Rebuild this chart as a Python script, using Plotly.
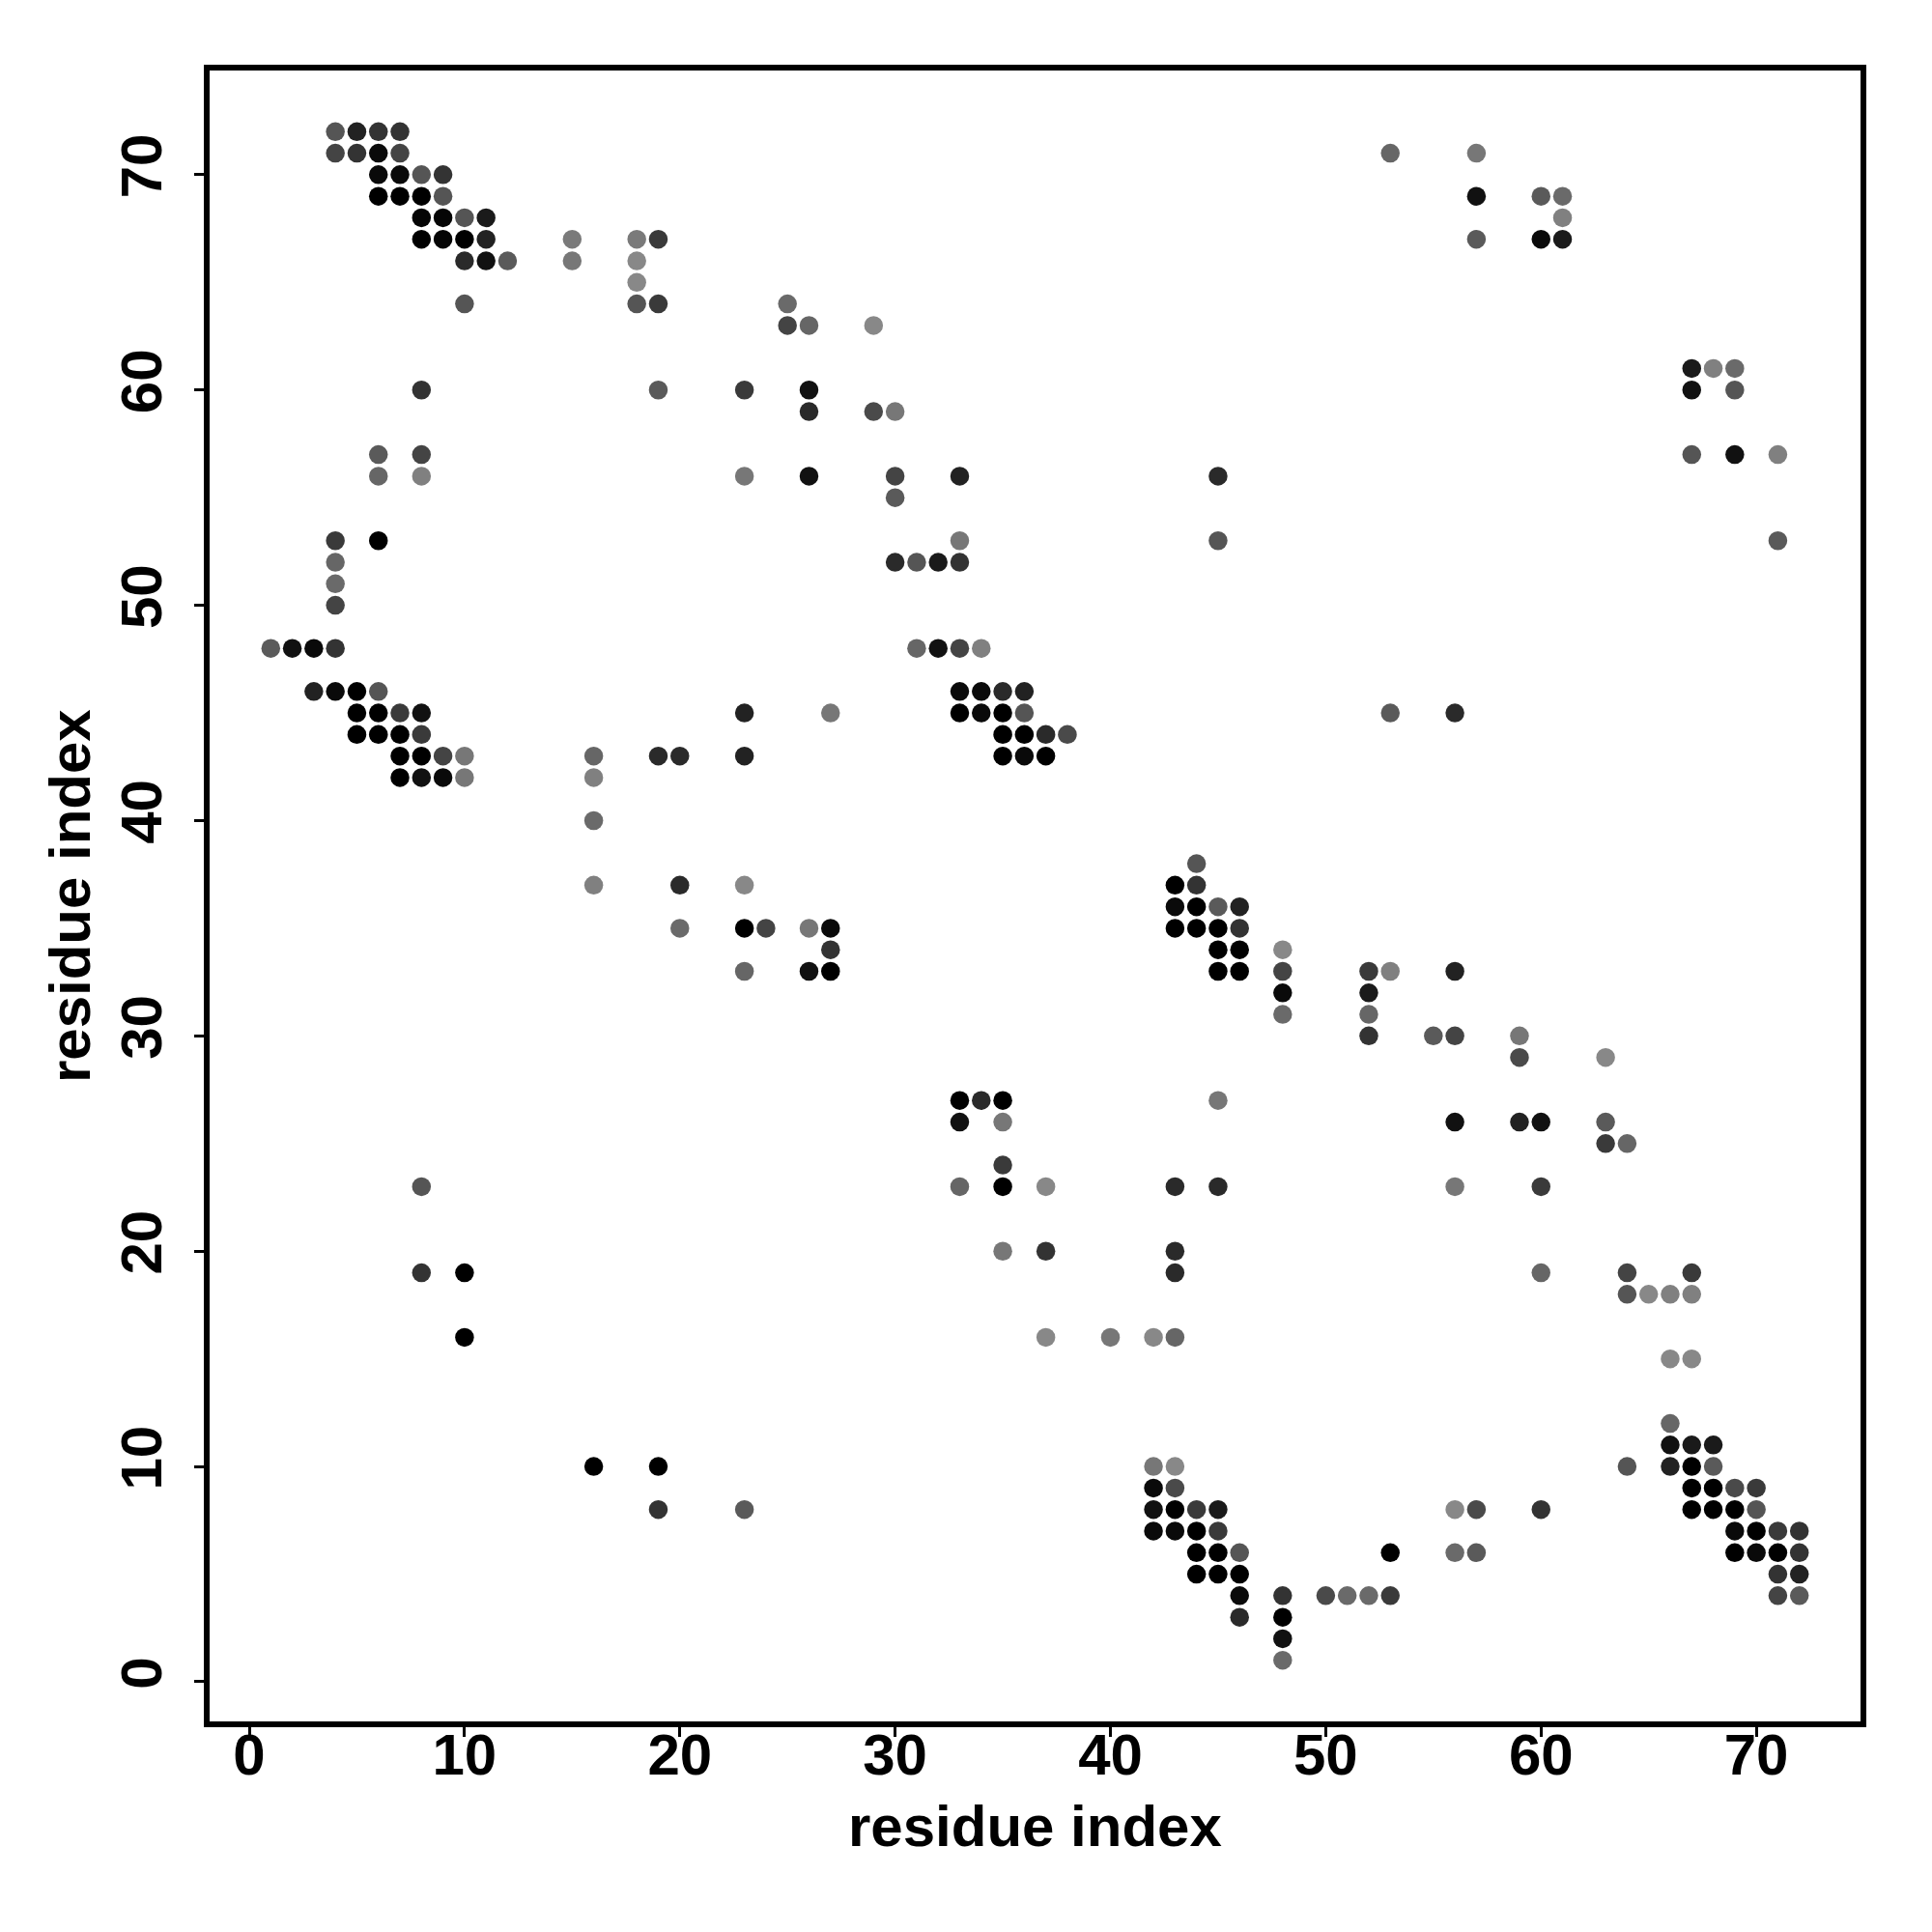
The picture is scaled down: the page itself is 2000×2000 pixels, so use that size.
import plotly.graph_objects as go

# Contact map: residue i (x), residue j (y), grey shade level (0 = black, 255 = white)
res_i = [
    4, 5, 6, 7,
    4, 5, 6, 7, 53, 57,
    6, 7, 8, 9,
    6, 7, 8, 9, 57, 60, 61,
    8, 9, 10, 11, 61,
    8, 9, 10, 11, 15, 18, 19, 57, 60, 61,
    10, 11, 12, 15, 18,
    18,
    10, 18, 19, 25,
    25, 26, 29,
    67, 68, 69,
    8, 19, 23, 26, 67, 69,
    26, 29, 30,
    6, 8, 67, 69, 71,
    6, 8, 23, 26, 30, 33, 45,
    30,
    4, 6, 33, 45, 71,
    4, 30, 31, 32, 33,
    4,
    4,
    1, 2, 3, 4, 31, 32, 33, 34,
    3, 4, 5, 6, 33, 34, 35, 36,
    5, 6, 7, 8, 23, 27, 33, 34, 35, 36, 53, 56,
    5, 6, 7, 8, 35, 36, 37, 38,
    7, 8, 9, 10, 16, 19, 20, 23, 35, 36, 37,
    7, 8, 9, 10, 16,
    16,
    44,
    16, 20, 23, 43, 44,
    43, 44, 45, 46,
    20, 23, 24, 26, 27, 43, 44, 45, 46,
    27, 45, 46, 48,
    23, 26, 27, 45, 46, 48, 52, 53, 56,
    48, 52,
    48, 52,
    52, 55, 56, 59,
    59, 63,
    33, 34, 35, 45,
    33, 35, 56, 59, 60, 63,
    63, 64,
    35,
    8, 33, 35, 37, 43, 45, 56, 60,
    35, 37, 43,
    8, 10, 43, 60, 64, 67,
    64, 65, 66, 67,
    10, 37, 40, 42, 43,
    66, 67,
    66,
    66, 67, 68,
    16, 19, 42, 43, 64, 66, 67, 68,
    42, 43, 67, 68, 69, 70,
    19, 23, 42, 43, 44, 45, 56, 57, 60, 67, 68, 69, 70,
    42, 43, 44, 45, 69, 70, 71, 72,
    44, 45, 46, 53, 56, 57, 69, 70, 71, 72,
    44, 45, 46, 71, 72,
    46, 48, 50, 51, 52, 53, 71, 72,
    46, 48,
    48,
    48,
]

res_j = (
    [72] * 4 + [71] * 6 + [70] * 4 + [69] * 7 + [68] * 5 + [67] * 10 + [66] * 5
    + [65] * 1 + [64] * 4 + [63] * 3 + [61] * 3 + [60] * 6 + [59] * 3 + [57] * 5
    + [56] * 7 + [55] * 1 + [53] * 5 + [52] * 5 + [51] * 1 + [50] * 1 + [48] * 8
    + [46] * 8 + [45] * 12 + [44] * 8 + [43] * 11 + [42] * 5 + [40] * 1 + [38] * 1
    + [37] * 5 + [36] * 4 + [35] * 9 + [34] * 4 + [33] * 9 + [32] * 2 + [31] * 2
    + [30] * 4 + [29] * 2 + [27] * 4 + [26] * 6 + [25] * 2 + [24] * 1 + [23] * 8
    + [20] * 3 + [19] * 6 + [18] * 4 + [16] * 5 + [15] * 2 + [12] * 1 + [11] * 3
    + [10] * 8 + [9] * 6 + [8] * 13 + [7] * 8 + [6] * 10 + [5] * 5 + [4] * 8
    + [3] * 2 + [2] * 1 + [1] * 1
)

shade = [
    85, 34, 51, 51,
    68, 51, 10, 68, 102, 119,
    10, 10, 85, 51,
    0, 0, 0, 85, 17, 90, 106,
    5, 5, 85, 26, 128,
    0, 5, 0, 34, 122, 122, 58, 90, 10, 26,
    42, 17, 90, 119, 136,
    136,
    85, 85, 58, 106,
    68, 102, 136,
    26, 128, 106,
    51, 90, 58, 17, 17, 85,
    42, 74, 119,
    90, 68, 85, 17, 128,
    102, 128, 119, 17, 68, 34, 42,
    90,
    58, 0, 119, 85, 90,
    102, 42, 85, 26, 51,
    106,
    68,
    90, 17, 10, 51, 102, 17, 68, 128,
    34, 10, 0, 85, 10, 10, 42, 34,
    0, 0, 58, 17, 34, 119, 0, 10, 0, 85, 90, 42,
    0, 0, 0, 58, 0, 0, 42, 74,
    0, 0, 68, 119, 102, 42, 42, 34, 0, 10, 0,
    0, 17, 10, 119, 128,
    106,
    85,
    128, 42, 136, 0, 51,
    10, 0, 90, 34,
    106, 0, 68, 119, 10, 0, 0, 0, 51,
    51, 0, 0, 136,
    102, 17, 0, 0, 0, 68, 58, 128, 34,
    10, 26,
    106, 102,
    51, 90, 68, 119,
    74, 136,
    0, 42, 0, 119,
    17, 119, 17, 34, 17, 90,
    58, 102,
    58,
    85, 102, 0, 136, 42, 42, 119, 58,
    119, 51, 42,
    51, 0, 42, 102, 68, 58,
    85, 136, 128, 128,
    0, 136, 119, 136, 102,
    136, 136,
    102,
    17, 26, 26,
    0, 0, 119, 136, 85, 34, 0, 90,
    10, 74, 0, 0, 74, 58,
    51, 90, 17, 0, 58, 26, 136, 74, 51, 0, 0, 0, 85,
    10, 10, 0, 58, 10, 0, 58, 51,
    0, 0, 85, 0, 106, 90, 0, 10, 0, 51,
    0, 0, 0, 51, 34,
    10, 51, 74, 106, 106, 58, 68, 90,
    42, 0,
    17,
    106,
]

tick_vals = [0, 10, 20, 30, 40, 50, 60, 70]
axis_title = "residue index"

colors = [f"rgb({g},{g},{g})" for g in shade]

FONT = "Liberation Sans, Arial, Helvetica, sans-serif"

fig = go.Figure(
    go.Scatter(
        x=res_i,
        y=res_j,
        mode="markers",
        marker=dict(size=19.5, color=colors, line=dict(width=0)),
        hoverinfo="x+y",
        showlegend=False,
    )
)

axis_common = dict(
    range=[-1.84, 74.84],
    tickvals=tick_vals,
    ticktext=[str(v) for v in tick_vals],
    ticks="outside",
    ticklen=10,
    tickwidth=3,
    tickcolor="black",
    showline=True,
    linewidth=6,
    linecolor="black",
    mirror=True,
    showgrid=False,
    zeroline=False,
    tickfont=dict(family=FONT, size=60, color="black", weight="bold"),
)

fig.update_xaxes(**axis_common, ticklabelstandoff=-33)
fig.update_yaxes(**axis_common, tickangle=-90, ticklabelstandoff=10)

fig.add_annotation(
    text=axis_title, xref="paper", yref="paper", x=0.5, y=-0.0632,
    xanchor="center", yanchor="middle", showarrow=False,
    font=dict(family=FONT, size=60, color="black", weight="bold"),
)
fig.add_annotation(
    text=axis_title, xref="paper", yref="paper", x=-0.0845, y=0.5,
    xanchor="center", yanchor="middle", textangle=-90, showarrow=False,
    font=dict(family=FONT, size=60, color="black", weight="bold"),
)

fig.update_layout(
    width=2000,
    height=2000,
    margin=dict(l=209, r=82, t=65, b=226),
    paper_bgcolor="white",
    plot_bgcolor="white",
)

fig.write_html("out.html")
